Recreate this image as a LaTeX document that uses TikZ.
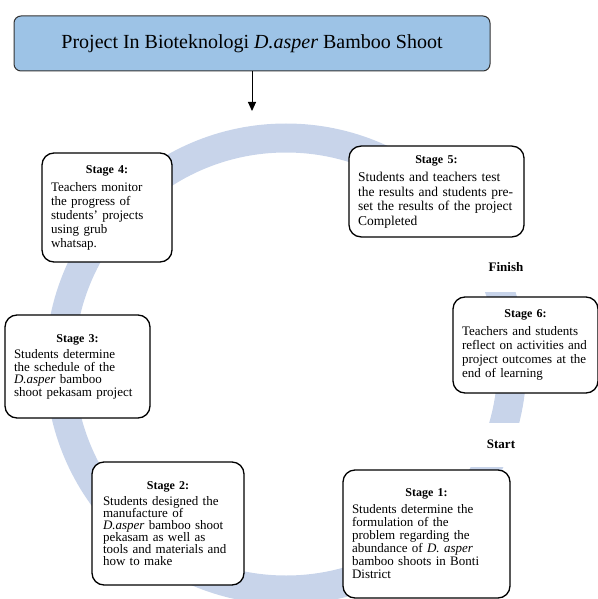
\documentclass[tikz,border=0pt]{standalone}
\usepackage{fontspec}
\setmainfont{Liberation Serif}
\usetikzlibrary{arrows.meta}
\definecolor{ringblue}{RGB}{200,212,234}
\definecolor{headblue}{RGB}{157,195,230}
\newcommand{\stagehead}[1]{{\centering\fontsize{12}{13}\selectfont\textbf{#1}\par}\vspace{4pt}\raggedright}
\begin{document}
\begin{tikzpicture}[x=1pt,y=-1pt,
	stagebox/.style={draw,line width=1.3pt,rounded corners=12pt,fill=white,
		inner sep=9pt,font=\fontsize{13}{14}\selectfont},
	tag/.style={font=\bfseries\fontsize{13}{15}\selectfont}]
		\useasboundingbox (0,0) rectangle (597,599);
		% ring, with the two gaps at Finish and Start
		\draw[ringblue,line width=29pt] (286,364) circle (226);
		\fill[white] (440,237) rectangle (560,292);
		\fill[white] (440,423) rectangle (560,467);
		% title
		\node[draw=black!80,line width=1pt,fill=headblue,rounded corners=7pt,
			minimum width=476pt,minimum height=55pt,font=\fontsize{20}{22}\selectfont]
			(head) at (252,43.5) {Project In Bioteknologi \textit{D.asper} Bamboo Shoot};
		\coordinate (tip) at (252,111);
		\draw[-{Triangle[length=9pt,width=8pt]},line width=1pt] (head.south) -- (tip);
		% stages
		\node[stagebox,text width=112pt,minimum height=109pt] (s4) at (107,207.5)
			{\stagehead{Stage 4:}Teachers monitor\\ the progress of\\ students' projects\\ using grub\\ whatsap.};
		\node[stagebox,text width=157pt,minimum height=89pt,font=\fontsize{13.5}{14.5}\selectfont] (s5) at (436.5,191.5)
			{\stagehead{Stage 5:}Students and teachers test\\ the results and students pre-\\ set the results of the project\\ Completed};
		\node[stagebox,text width=127pt,minimum height=96pt] (s6) at (525.5,345)
			{\stagehead{Stage 6:}Teachers and students\\ reflect on activities and\\ project outcomes at the\\ end of learning};
		\node[stagebox,text width=127pt,minimum height=103pt,font=\fontsize{13}{12.5}\selectfont] (s3) at (77.5,366.5)
			{\stagehead{Stage 3:}Students determine\\ the schedule of the\\ \textit{D.asper} bamboo\\ shoot pekasam project};
		\node[stagebox,text width=130pt,minimum height=123pt,inner sep=11pt,font=\fontsize{13}{12}\selectfont] (s2) at (168,523.5)
			{\stagehead{Stage 2:}Students designed the\\ manufacture of\\ \textit{D.asper} bamboo shoot\\ pekasam as well as\\ tools and materials and\\ how to make};
		\node[stagebox,text width=149pt,minimum height=128pt,font=\fontsize{13}{13}\selectfont] (s1) at (426.5,534)
			{\stagehead{Stage 1:}Students determine the\\ formulation of the\\ problem regarding the\\ abundance of \textit{D. asper}\\ bamboo shoots in Bonti\\ District};
		\node[tag] (finish) at (506,267) {Finish};
		\node[tag] (start) at (501,444) {Start};
\end{tikzpicture}
\end{document}
